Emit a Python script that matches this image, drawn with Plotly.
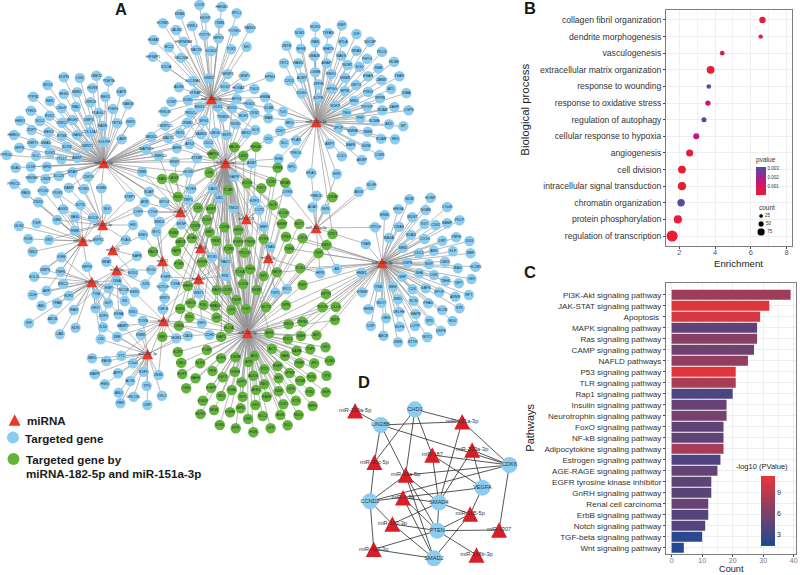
import plotly.graph_objects as go

W, H = 800, 575
FONT = "Liberation Sans"

# ---------- Panel B ----------
bp_terms = ["collagen fibril organization", "dendrite morphogenesis", "vasculogenesis",
            "extracellular matrix organization", "response to wounding", "response to oxidative stress",
            "regulation of autophagy", "cellular response to hypoxia", "angiogenesis", "cell division",
            "intracellular signal transduction", "chromatin organization", "protein phosphorylation",
            "regulation of transcription"]
bp_enrich = [6.65, 6.55, 4.4, 3.75, 3.65, 3.6, 3.38, 2.95, 2.58, 2.15, 2.15, 2.1, 1.92, 1.6]
bp_pvalue = [.0002, .0003, .0005, .0001, .0029, .0012, .0029, .0015, .0002, .0001, .0001, .003, .0002, .0001]
bp_count = [50, 20, 25, 70, 22, 35, 30, 45, 60, 70, 75, 65, 75, 120]
count_legend = [25, 50, 75]

# ---------- Panel C ----------
path_names = ["PI3K-Akt signaling pathway", "JAK-STAT signaling pathway", "Apoptosis ", "MAPK signaling pathway",
              "Ras signaling pathway", "CAMP signaling pathway", "NAFLD pathways", "P53 signaling pathway",
              "TLR signaling pathway", "Rap1 signaling pathway", "Insulin signaling pathway",
              "Neurotrophin signaling pathway", "FoxO signaling pathway", "NF-kB signaling pathway",
              "Adipocytokine signaling pathway", "Estrogen signaling pathway", "AGE-RAGE signaling pathway",
              "EGFR tyrosine kinase inhibitor", "GnRH signaling pathway", "Renal cell carcinoma",
              "ErbB signaling pathway", "Notch signaling pathway", "TGF-beta signaling pathway",
              "Wnt signaling pathway"]
path_count = [39, 32, 29, 28, 28, 27, 25, 21, 21, 20, 18, 18, 17, 17, 17, 16, 15, 13, 13, 12, 12, 11, 10, 4]
path_logp = [7.6, 10.8, 10.4, 4.6, 6.6, 5.2, 7.0, 10.8, 8.2, 3.6, 5.0, 5.6, 4.6, 4.6, 8.0, 3.6, 4.8, 4.6, 4.2,
             5.0, 4.0, 4.0, 2.0, 1.6]

# ---------- Panel A: miRNA hubs (name, x, y read in picture pixels) ----------
hubs = [("miR-30c-5p", 104, 163), ("miR-106a-5p", 212, 99), ("miR-26a-5p", 226, 163), ("miR-151a-3p", 317, 122),
        ("miR-187", 181, 212), ("miR-1307", 247, 219), ("miR-203a-3p", 317, 228), ("miR-4-3p", 269, 258),
        ("miR-148b-3p", 383, 263), ("miR-423-3p", 103, 225), ("miR-205-5p", 83, 241), ("miR-339", 113, 250),
        ("miR-16", 201, 248), ("miR-21", 163, 261), ("miR-23a", 117, 270), ("miR-92a", 92, 282),
        ("miR-146", 199, 279), ("miR-93", 164, 321), ("miR-182-3p", 148, 354), ("miR-182-5p", 248, 333)]
green_hub_main = "miR-182-5p"
green_hub_upper = ["miR-26a-5p", "miR-151a-3p"]
green_hub_right = "miR-148b-3p"
blue_hub_left = "miR-30c-5p"

blue_crop9 = [("SDAP",58,65),("HOXD",177,7),("KAP8",314,20),("FOSS",185,57),("CAV1",250,57),("TMP1",176,90),("UBC",270,85),
 ("ATM",45,97),("MTO4",104,97),("E2F3",375,92),("TMC6",312,115),("LCP2",390,120),("CYFP",25,125),("CTGF",70,127),("BMD4",90,155),
 ("MBP",403,170),("SRSF",155,163),("SNK1",40,194),("MYC",80,185),("HIK",10,165),("TSAD",423,231),("SAFB",22,258),("RLG1",65,300),
 ("FGFR",108,320),("BOD2",10,310),("TGFA",137,342),("ROS1",248,262),("PAK1",288,277),("FN1",288,317),("NOTCH",100,350),
 ("JUN",47,343),("WBT1",208,370),("ESR1",15,367),("TSP1",438,368),("RICC",473,358),("WNT5",105,385),("KTBS",425,405),
 ("TGF-B",100,418),("TOXB",40,453),("IGF1",217,460),("KMB1",34,495),("NDM1",140,505),("CA24",175,498),("CDH2",240,495),("SNO",10,425)]
blue_crop4 = [("LCOR",600,15),("HMGB1",667,20),("RP1-L",712,40),("KRAS",541,43),("HDXR",617,53),("HOXB5",490,70),("TIMM",660,70),
 ("CALM2",530,90),("VSNL1",578,78),("POTEG",705,93),("PANK3",752,85),("POTTN",615,105),("HIPK3",657,115),("HNRNPAB",552,125),
 ("HDBAT",462,120),("SKI",742,140),("BCL2",508,142),("RAT1N",590,150),("KCNJ2",635,153),("TOX2",695,148),("SEC24A",545,173),
 ("HIF3BP1",460,170),("NCOA",500,200),("GRB2",628,235),("SENP1",685,222),("LMNP1",735,228),("SLC39A1",580,243),("SOX2",677,260),
 ("HOXA3",717,265),("TGO1",765,267),("ADSS",538,262),("STRAP",587,280),("RUS1",565,300),("EPG1",712,298),("COMT",516,305),
 ("MSX3",600,320),("ULK1",655,320),("BOD1",698,325),("PKGD1",750,312),("PERLIB",495,335),("PRDC2",573,338),("TRIM16",670,350),
 ("MLH1",732,348),("CKS2",765,340),("CBRPL11",497,377),("CRBB1",563,368),("SPG1",613,362),("RGS5",708,372),("TEX1",541,400),
 ("SAMD8",605,403),("UBGD",648,398),("SKP2",682,405),("BEX2",740,400),("GLS",768,390),("NEDD1",455,410),("MALT1",506,415),
 ("ATK3",570,432),("CDC2",627,430),("ARHI",532,445),("TOMHCD",478,468),("MAP3K9",440,448),("SRMT",525,485),("STXBP",592,475),
 ("TMBI",427,515),("HOXB7",567,517),("KAP3L8",700,528),("ASB7",757,490),
 ("UBE2Z",290,227),("KDPN",192,232),("LGI1",240,234),("PDE7A",327,243),("SKI13",143,255),("KAP8",365,275),("SESD",192,282),
 ("SMBC",232,277),("HDRB",278,265),("PTPN2",100,290),("BEX1",317,290),("BEX",150,303),("C8orf7",185,325),("LRRC8",272,307),
 ("RAB3B",385,313),("RAD",228,320),("PLAGL2",297,338),("PGRG",340,327),("YTHD1",93,332),("EVX2",149,347),("SCL2",120,363),
 ("NEDH1",218,360),("DMP3",267,360),("TETS1",352,370),("NRIX",393,367),("HMK3",60,362),("LRRC7",187,368),("FAZB",308,378),
 ("MEX3",146,397),("ETSB",186,408),("COL12A1",270,397),("GAN1",232,405),("HMBOX",42,405),("ZDP7",95,390),("DNRT1",98,430),
 ("SMAD",138,430),("SCKS",201,440),("DMNT1",262,438),("GOLPH",313,425),("CASP",366,418),("GFPN",58,443),("TOGIT",150,458),
 ("TTLL7",185,478),("ABSP",232,473),("PPRGC",20,465),("KLC",108,467),("VDAC",47,503),("CLKF",93,500),("MFB",141,500),
 ("MTAP",218,517),("SLC26",177,528),("FBXW4",95,535),("LIN28",137,537),("CDK19",265,530),("PPRC1L",43,552),("PAK3",77,580),
 ("STOX2",130,572),("PDSS",173,580),("SAMP",207,563),("FOSS1",252,567),("RGMD",305,565),("ZNXD",115,607),("SOTD",242,615),
 ("STBPT",390,590),("SLK",322,628),("AGSD",190,628),("VASL",226,650),("SOCS",280,653),("GMDL",480,663),("HMB",225,692),
 ("GLS2",57,678),("TGIF",110,670),("UBE",172,660),("RGS",85,717),("VNT",147,720),("TBD2",98,755),("LY9",397,675),
 ("SNRP",428,705),("PLAG",378,720),("SRPK1",295,720)]
blue_crop5 = [("KIBP",278,76),("HOXG",198,80),("NOB1",151,98),("TSPAN",237,100),("IDF",322,102),("RAB",198,127),("BTLA",282,125),
 ("SDCBP",363,125),("ZETB",112,137),("SFSB",155,146),("NFATS",237,146),("NRAS",322,152),("PDCD",399,155),("DBAJB",195,168),
 ("NAVS",276,167),("PHTG",354,176),("YST2",104,190),("HABD",147,190),("ARAP",232,190),("NUMT",295,195),("SOD",331,200),
 ("HUSE",435,185),("SMB",388,205),("LGMB",198,217),("FBXO",246,222),("NMBR",288,233),("ACEP",158,233),("ENAH",357,229),
 ("TEAR",451,229),("C2CD",120,242),("CBBBT",397,240),("HPNG",62,230),("ZFPM",208,253),("HPGG",248,266),("KBTG",321,255),
 ("TSG",15,268),("MPM",287,273),("PRKG",357,275),("ATL",426,267),("KIAA",472,279),("KDSG",157,280),("HMBA",47,292),
 ("SCPB",207,295),("RPPB",393,295),("MND",315,302),("SDKP",258,317),("PKYKP",354,320),("KAHP",436,321),("GLBB",58,323),
 ("TLK",101,335),("TEG",292,338),("RCAB",400,331),("CGPS",479,331),("MAB",57,355),("BRG",121,368),("PHT",334,355),
 ("NCMA",376,363),("AKD",420,373),("MT",463,379),("CDKT",93,393),("JPCP",268,385),("MMNE",311,393),("NMB",356,395),
 ("ROAB",396,416),("SEX",438,418),("FLAS",141,421),("CDC",57,417),("SLC",105,430),("ASPT",242,432),("BAFS",305,436),
 ("NUM",351,439),("CCER",391,465),("AKMP",338,480),("CCDC",278,469),("HDAC",186,520),("HXK",263,522),("BPC",128,502),
 ("SDGF",367,556),("ASGI",329,575),("PBBOD",202,587),("ACAT",190,622),("SKN",229,628),("DYRK",115,575),("E2F",15,600),
 ("LGP",30,630),("MBP1",43,681),("TSAD1",62,740),("PRKG1",140,460),("NHB",88,476),
 ("NDM",481,598),("HOMT",545,593),("C7orf5",595,621),("HMGA",448,628),("NGBB",530,630),("PDLP",632,661),("MSBL",407,645),
 ("WDST",490,652),("KVT",527,672),("CDK1",560,675),("BAMP",595,670),("CRTCH",378,682),("CRAS",450,680),("SDAS",486,705),
 ("BAGA",420,713),("COOG",527,717),("LRP",580,722),("YBPH",622,712),("DDX",662,723),("TSAR",350,732),("MMD",462,743),
 ("CDC1",510,760),("ARK",555,752),("KLF",612,754),("MEF",665,760)]
blue_crop6 = [("KIFB",185,22),("WIPF2",262,50),("GNPN",135,60),("TNFS",182,65),("SOL2L",103,80),("NEAT",320,35),("BOD3",405,70),
 ("BRCC",190,102),("ARF",140,122),("CDH",98,135),("E2F2",207,137),("TGB",290,132),("EMP",327,115),("NCOB",372,120),("ESR",408,128),
 ("TFAB",172,160),("ABL",125,167),("GLP",325,160),("RS",375,153),("IFAR",222,180),("GRO",287,175),("E2F1",312,198),("EVBA",357,193),
 ("SOC",398,187),("IRF",87,220),("ABCB",158,208),("KDN",227,233),("LAB",180,253),("IL34",310,232),("BAMP1",370,228),("LIN",303,268),
 ("ZEB",352,260),("MED",277,325),("RAGD",320,333),("YY1",365,317),("C1orf",400,340),("MAPR",285,373),("APP1",355,370),("HMG",315,403),
 ("ACSL",392,393),("E2F5",432,365),("ZEB1",477,375),("ABLI",357,428),("TP3",441,407),("GRLCBL",402,440),("CFL2",487,437),
 ("PBR",362,460),("USP",443,465),("DNA",352,92)]
blue_crop8 = [("HIPK",243,70),("AS",293,57),("TGF",108,128),("HMB1",367,68),
 ("STBBP",370,127),("ITBB",418,110),("MEE",462,110),("NHSB",388,178),("SKOT",427,158),("NRD",477,148),("ECN",524,153),("CLK",521,118),
 ("GAPS",560,115),("GNP",490,80),("NFA",541,70),("OGF",585,75),("TBHK",620,92),("NFT",660,100),("SPOP",601,127),("ARMS",649,140),
 ("NPT",690,135),("PHAX",568,160),("SLCM",610,180),("STK",662,175),("EDU",641,213),("XPD",572,212),("USPB",606,243),("NOTC",565,262),
 ("STTH",521,276),("LOTP",528,228),("MAPB",530,192),("DELHE",480,186),("ELFS",482,230),("GEN",441,205),("DXP",395,228),("ABCE",433,257),
 ("SMS",477,277),("USP8",505,38),("SKIP",570,42),("CMIG",618,35),("BAG",657,55),("SLCM1",710,50),("GRI",698,87)]

green_crop9 = [("SAN",97,27),("LAGS",132,23),("KCCN",353,40),("TGOT",396,55),("CCNT",426,35),("MRAS",468,38),("ING1",145,80),("TCAF",296,60),
 ("CDK",205,113),("AKBP",245,117),("GCNT",232,150),("CDKB",285,172),("CDKM",197,168),("MBT",240,187),("KNBS",132,188),("BAGS",153,217),
 ("GOAD",187,205),("TMSC",260,213),("SENS",327,181),("FGFS",326,215),("PTEN1",362,215),("XYKS",403,208),("NCF",431,105),("GLOGK",463,130),
 ("NIKBP",458,162),("BDTT",510,162),("TPSS",470,200),("CXCK",520,205),("TGFM",480,236),("ZCMD",298,237),("RACS",70,245),("TARP",140,243),
 ("FTBS",148,283),("HRGN",218,277),("TPCCN",345,248),("TLKA",332,305),("THSS",362,298),("SP1",403,318),("NETP",443,307),("COLM",341,342),
 ("KKBP",382,360),("KCNJ",513,295),("RSIP",520,345),("BAG1",262,360),("CDR1",293,360),("HIBKP",175,348),("SMOO",184,400),("KSL",222,405),
 ("SMAD4",257,407),("E2F4",152,416),("RSC",180,442),("GPP",261,443),("TSRP",321,390),("CPZ",306,420),("TGIT",350,417),("SCTS",410,412),
 ("SPN",470,406),("LREB",148,467),("ELOA",298,474),("GAP1",275,500),("XBP",98,500),("ZFPM1",520,455),("RBCK",478,463),("ARH",420,490)]
green_crop4 = [("BACH1",705,442),("HMGB2",770,440),("LMX1",732,467),("MAPK8",640,463),("CRK",630,518),("EPHA2",745,548),("UGP2",685,570)]
green_crop5 = [("HMGN",22,440),("OPEB",85,503),("TCF",65,545),("NRAS1",108,546),("RCNX",35,567),("CDKBP",250,592),("KDGK",42,716),
 ("CPDT",250,702),("KMDC",232,735),("SLFTM",118,749),("TKFI",208,760)]
green_crop6 = [("SCRT",535,306),("PLBR",622,300),("E2F6",665,325),("TSGM",708,322),("CSKO",545,338),("NLKK",602,340),("ELFT",548,372),
 ("VAHH",588,385),("FRS",639,363),("KEYT",670,382),("ODRH",706,365),("ATB",748,336),("AUDK",762,377),("CHD",560,415),("FGFP",635,413),
 ("GPPC",727,397),("KGM",697,420),("KGDP",610,452),("SKD",665,438),("ISP1",730,440),("MGK",644,480),("KGHF",692,487),("MPD",724,475),
 ("HDRG",603,492),("SLML",661,525),("DKK",746,507),("RPS",709,535),("HGN",762,547),("GXD",768,465),("ATB1",770,420),("ALK",765,317)]
green_crop8 = [("NPTN",260,132),("RGON",250,172),("CLLS",290,170),("IMTP",287,210),("KCNJ4",183,57),("RSIP1",190,105),
 ("ARHGEF12",104,250),("ZFPM2",195,215),("RBCK1",148,223),("NGCC",146,268),("SIAH",185,258),("AKT",232,256),("CHO",259,292),("TGFI",213,298),
 ("NASB",172,302),("ACT",98,296),("HAS",137,317),("ATB2",62,316),("SAT",27,337),("KLMO",272,332),("JFD",225,340),("CHMP",180,340),
 ("RTD",75,358),("RSEP",115,348),("GPMP",151,369),("TPS",262,377),("RDNL",217,381),("AUD",42,377),("MKL",118,385),("RCNB",183,392),
 ("KSD",212,425),("SKH",260,427),("ATB3",44,418),("KBH",118,424),("GPS",155,417),("RASF",82,440),("KTN",170,452),("CHD2",48,465),
 ("CDK2",132,463),("MPH",220,468),("AGS",123,495),("SLC2",70,498),("RDLD",178,495),("KRC",27,507),("SCL",145,526),("LPP",94,535),("SOLB",44,546),
 ("NKO",75,403)]

d_mirna = [("miR-106a-5p",168,212),("miR-151a-3p",490,245),("miR-203a-3p",520,330),("miR-187",400,345),("miR-30c-5p",226,367),
           ("miR-26a-5p",320,405),("miR-4-3p",312,473),("miR-182-3p",280,552),("miR-205-5p",514,522),("miR-1307",601,570),
           ("miR-423-3p",224,628),("miR-148b-3p",533,645)]
d_genes = [("CHD1",348,208),("LIN28B",245,255),("CDK6",632,375),("VEGFA",551,443),("SMAD4",420,488),("CCND2",213,484),
           ("PTEN",415,572),("SMAD2",405,655)]
d_edges = [("miR-106a-5p","LIN28B"),("LIN28B","miR-151a-3p"),("CHD1","miR-151a-3p"),("LIN28B","CDK6"),("LIN28B","miR-30c-5p"),
           ("LIN28B","miR-26a-5p"),("CHD1","miR-30c-5p"),("CHD1","miR-26a-5p"),("CHD1","miR-187"),("miR-151a-3p","SMAD4"),
           ("miR-151a-3p","CDK6"),("miR-187","CDK6"),("miR-203a-3p","CDK6"),("miR-187","VEGFA"),("miR-187","SMAD4"),
           ("miR-203a-3p","SMAD4"),("miR-203a-3p","VEGFA"),("miR-30c-5p","CCND2"),("miR-26a-5p","CCND2"),("miR-26a-5p","CDK6"),
           ("miR-26a-5p","SMAD4"),("miR-26a-5p","PTEN"),("miR-26a-5p","SMAD2"),("CCND2","CDK6"),("CCND2","VEGFA"),
           ("miR-4-3p","PTEN"),("miR-4-3p","SMAD2"),("miR-4-3p","SMAD4"),("CCND2","miR-182-3p"),("CCND2","miR-423-3p"),
           ("miR-182-3p","SMAD4"),("miR-182-3p","PTEN"),("miR-182-3p","SMAD2"),("SMAD4","miR-205-5p"),("SMAD4","PTEN"),
           ("VEGFA","miR-205-5p"),("PTEN","miR-205-5p"),("PTEN","miR-1307"),("CDK6","miR-1307"),("PTEN","miR-148b-3p"),
           ("SMAD2","miR-205-5p"),("PTEN","miR-423-3p"),("miR-423-3p","SMAD2")]

# ---------- helpers: convert crops to picture pixels, drop nodes seen in two crops ----------
def place(crop, ox, oy):
    return [(n, ox + x / 3, oy + y / 3) for n, x, y in crop]

seen = []
def unique(nodes):
    out = []
    for n, x, y in nodes:
        if all((x - a) ** 2 + (y - b) ** 2 > 49 for a, b in seen):
            seen.append((x, y))
            out.append((n, x, y))
    return out

green = unique(place(green_crop9, 130, 170))
blue = unique(place(blue_crop9, 130, 170))
green += unique(place(green_crop4, 0, 0) + place(green_crop5, 250, 0) + place(green_crop6, 0, 250) + place(green_crop8, 240, 250))
blue += unique(place(blue_crop4, 0, 0) + place(blue_crop5, 250, 0) + place(blue_crop6, 0, 250) + place(blue_crop8, 240, 250))

hub_pos = {n: (x, y) for n, x, y in hubs}
ex, ey = [], []
def link(a, b):
    ex.extend([a[0], b[0], None])
    ey.extend([a[1], b[1], None])

def dist(a, x, y):
    return ((a[0] - x) ** 2 + (a[1] - y) ** 2) ** .5

for n, x, y in blue:
    ranked = sorted(hubs, key=lambda h: dist(h[1:], x, y))
    link((x, y), ranked[0][1:])
    if dist(ranked[1][1:], x, y) < 62:
        link((x, y), ranked[1][1:])
    if 130 < x < 205 and 120 < y < 210:
        link((x, y), hub_pos[blue_hub_left])
for n, x, y in green:
    link((x, y), hub_pos[green_hub_main])
    if y < 345:
        if x > 270 and y > 235:
            link((x, y), hub_pos[green_hub_right])
        else:
            other = min(green_hub_upper, key=lambda h: dist(hub_pos[h], x, y))
            link((x, y), hub_pos[other])

fig = go.Figure()
CANVAS = dict(xaxis="x3", yaxis="y3", showlegend=False, hoverinfo="skip")

def triangles(points, w, h, color):
    """Upright triangles around each point (Plotly's own triangle symbol is too flat here)."""
    tx, ty = [], []
    for x, y in points:
        tx += [x - w / 2, x + w / 2, x, x - w / 2, None]
        ty += [y + h / 2, y + h / 2, y - h / 2, y + h / 2, None]
    fig.add_trace(go.Scatter(x=tx, y=ty, mode="lines", fill="toself", fillcolor=color, line=dict(width=0, color=color), **CANVAS))

def labels(points, names, font):
    fig.add_trace(go.Scatter(x=[p[0] for p in points], y=[p[1] for p in points], text=names, mode="text",
                             textposition="middle center", textfont=font, **CANVAS))

# panel A
fig.add_trace(go.Scatter(x=ex, y=ey, mode="lines", line=dict(color="#939393", width=0.65), **CANVAS))
NET_TEXT = dict(size=3.6, color="#1d2b3a", family=FONT)
for nodes, col in ((blue, "#8ACDF0"), (green, "#64B43C")):
    fig.add_trace(go.Scatter(x=[p[1] for p in nodes], y=[p[2] for p in nodes], text=[p[0] for p in nodes],
                             mode="markers+text", textposition="middle center", textfont=NET_TEXT,
                             marker=dict(size=10.5, color=col, line=dict(width=0)), **CANVAS))
triangles([h[1:] for h in hubs], 11, 10.5, "#E8392B")
labels([h[1:] for h in hubs], [h[0] for h in hubs], NET_TEXT)

# legend of panel A
triangles([(14.7, 420)], 12, 11.5, "#E8392B")
fig.add_trace(go.Scatter(x=[13], y=[437.5], mode="markers", marker=dict(size=12, color="#8ACDF0"), **CANVAS))
fig.add_trace(go.Scatter(x=[13.5], y=[459], mode="markers", marker=dict(size=12, color="#64B43C"), **CANVAS))

# panel D
dpos = {n: (300 + x / 3, 340 + y / 3) for n, x, y in d_mirna + d_genes}
dx, dy = [], []
for a, b in d_edges:
    dx.extend([dpos[a][0], dpos[b][0], None])
    dy.extend([dpos[a][1], dpos[b][1], None])
fig.add_trace(go.Scatter(x=dx, y=dy, mode="lines", line=dict(color="#2b2b2b", width=0.8), **CANVAS))
D_TEXT = dict(size=5.6, color="#333333", family=FONT)
fig.add_trace(go.Scatter(x=[dpos[n][0] for n, _, _ in d_genes], y=[dpos[n][1] for n, _, _ in d_genes],
                         text=[n for n, _, _ in d_genes], mode="markers+text", textposition="middle center",
                         textfont=D_TEXT, marker=dict(size=16, color="#8ACDF0"), **CANVAS))
triangles([dpos[n] for n, _, _ in d_mirna], 16, 15.5, "#DA1E28")
labels([dpos[n] for n, _, _ in d_mirna], [n for n, _, _ in d_mirna], D_TEXT)

# panel B
def dot(c):
    return 3 + 0.068 * c
fig.add_trace(go.Scatter(x=bp_enrich, y=bp_terms, mode="markers", xaxis="x", yaxis="y", showlegend=False,
                         marker=dict(size=[dot(c) for c in bp_count], color=bp_pvalue, cmin=0, cmax=0.00315, opacity=1,
                                     colorscale=[[0, "#EE1C2E"], [0.5, "#C4167F"], [1, "#4A4FA3"]],
                                     line=dict(width=0),
                                     colorbar=dict(title=dict(text="pvalue", side="top", font=dict(size=6.5, family=FONT, color="#333")),
                                                   x=758 / W, xanchor="left", y=1 - 195 / H, yanchor="bottom",
                                                   lenmode="pixels", len=41, thicknessmode="pixels", thickness=10,
                                                   xpad=0, ypad=0, outlinewidth=0, ticks="",
                                                   tickvals=[.001, .002, .003], ticktext=["0.001", "0.002", "0.003"],
                                                   tickfont=dict(size=4.5, family=FONT, color="#333")))))
fig.add_trace(go.Scatter(x=[763] * 3, y=[216, 224, 232], mode="markers+text", text=[str(c) for c in count_legend],
                         textposition="middle right", textfont=dict(size=4.5, family=FONT, color="#333"),
                         marker=dict(size=[dot(c) for c in count_legend], color="black", opacity=1), **CANVAS))

# panel C
fig.add_trace(go.Bar(x=path_count, y=path_names, orientation="h", xaxis="x2", yaxis="y2", showlegend=False, width=0.9,
                     marker=dict(color=path_logp, cmin=1.3, cmax=11.3, colorscale=[[0, "#1D4A93"], [1, "#E9353A"]],
                                 line=dict(width=0),
                                 colorbar=dict(x=763 / W, xanchor="left", y=1 - 546 / H, yanchor="bottom",
                                               lenmode="pixels", len=70, thicknessmode="pixels", thickness=14,
                                               xpad=0, ypad=0, outlinewidth=0, ticks="", tickvals=[3, 6, 9],
                                               tickfont=dict(size=7, family=FONT, color="#333")))))

AX = dict(showline=True, mirror=True, linecolor="#7d7d7d", linewidth=1, gridcolor="#EDEDF2", gridwidth=0.7,
          ticks="outside", ticklen=2, tickcolor="#444", zeroline=False)
fig.update_layout(
    width=W, height=H, margin=dict(l=0, r=0, t=0, b=0), paper_bgcolor="white", plot_bgcolor="rgba(0,0,0,0)",
    font=dict(family=FONT, color="#222"), bargap=0.1,
    xaxis=dict(domain=[667.7 / W, 794 / W], range=[1.26, 8.3], anchor="y", tickvals=[2, 4, 6, 8], ticklabelstandoff=-3,
               tickfont=dict(size=7.5, color="#555"), minor=dict(showgrid=True, dtick=1, gridcolor="#F3F3F6"), **AX),
    yaxis=dict(domain=[1 - 246 / H, 1 - 10 / H], range=[13.6, -0.6], anchor="x", type="category",
               categoryorder="array", categoryarray=bp_terms, tickfont=dict(size=8.6, color="#333"), **AX),
    xaxis2=dict(domain=[667.7 / W, 798 / W], range=[-1.83, 40.75], anchor="y2", tickvals=[0, 10, 20, 30, 40], ticklabelstandoff=-2,
                tickfont=dict(size=7, color="#777"), minor=dict(showgrid=True, dtick=5, gridcolor="#F3F3F6"), **AX),
    yaxis2=dict(domain=[1 - 554 / H, 1 - 282.7 / H], range=[23.57, -1.09], anchor="x2", type="category",
                categoryorder="array", categoryarray=path_names, tickfont=dict(size=8.1, color="#333"), **AX),
    xaxis3=dict(domain=[0, 1], range=[0, W], visible=False, anchor="y3"),
    yaxis3=dict(domain=[0, 1], range=[H, 0], visible=False, anchor="x3"),
)

def note(text, x, y, size, bold=False, anchor="left", color="#1a1a1a", angle=0):
    fig.add_annotation(xref="x3", yref="y3", x=x, y=y, text=f"<b>{text}</b>" if bold else text, showarrow=False,
                       xanchor=anchor, yanchor="middle", textangle=angle, font=dict(size=size, family=FONT, color=color))

note("A", 121, 9, 16.5, True, "center")
note("B", 531, 8, 16.5, True, "center")
note("C", 531, 272, 16.5, True, "center")
note("D", 365, 382, 16.5, True, "center")
note("miRNA", 25.5, 420, 11.6, True)
note("Targeted gene", 23, 438, 11.6, True)
note("Targeted gene by", 24, 459, 11.6, True)
note("miRNA-182-5p and miR-151a-3p", 24, 473, 11.6, True)
note("count", 769, 207, 6.5, False, "center", "#333")
note("-log10 (PValue)", 764, 466, 7.5, False, "center", "#222")
note("Biological process", 526, 110, 11.4, False, "center", "#222", -90)
note("Pathways", 531, 428, 11, False, "center", "#222", -90)
note("Enrichment", 740.7, 263, 9.7, False, "center", "#222")
note("Count", 733, 569, 9.2, False, "center", "#222")

fig.write_html("out.html", config=dict(displayModeBar=False), post_script="document.body.style.margin='0';")
